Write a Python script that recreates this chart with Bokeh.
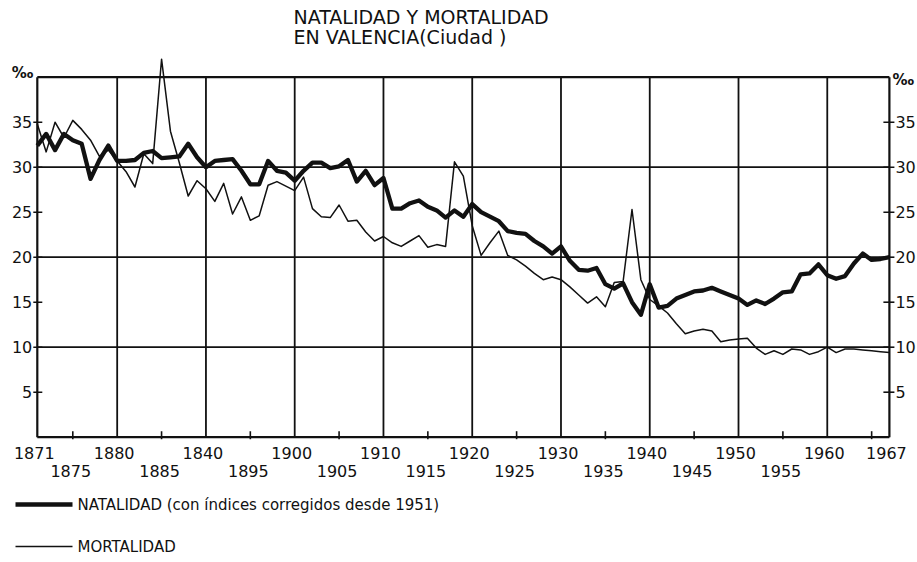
from bokeh.plotting import figure
from bokeh.models import ColumnDataSource, Range1d
from bokeh.core.properties import value
from bokeh.embed import file_html
from bokeh.resources import INLINE

# ---------------- data ----------------
years = list(range(1871, 1968))

natalidad = [
    32.4, 33.7, 31.9, 33.7, 33.0, 32.6, 28.7, 30.8, 32.4, 30.7,   # 1871-1880
    30.7, 30.8, 31.6, 31.8, 31.0, 31.1, 31.2, 32.6, 31.1, 30.0,   # 1881-1890
    30.7, 30.8, 30.9, 29.6, 28.1, 28.1, 30.7, 29.6, 29.4, 28.5,   # 1891-1900
    29.6, 30.5, 30.5, 29.9, 30.1, 30.8, 28.4, 29.6, 28.0, 28.8,   # 1901-1910
    25.4, 25.4, 26.0, 26.3, 25.6, 25.2, 24.4, 25.2, 24.5, 25.9,   # 1911-1920
    25.0, 24.5, 24.0, 22.9, 22.7, 22.6, 21.8, 21.2, 20.4, 21.2,   # 1921-1930
    19.6, 18.6, 18.5, 18.8, 17.0, 16.5, 17.1, 15.0, 13.6, 17.0,   # 1931-1940
    14.4, 14.6, 15.4, 15.8, 16.2, 16.3, 16.6, 16.2, 15.8, 15.4,   # 1941-1950
    14.7, 15.2, 14.8, 15.4, 16.1, 16.2, 18.1, 18.2, 19.2, 18.0,   # 1951-1960
    17.6, 17.9, 19.3, 20.4, 19.7, 19.8, 20.0,                     # 1961-1967
]

mortalidad = [
    34.8, 31.7, 35.0, 33.3, 35.2, 34.2, 33.0, 31.2, 31.9, 30.7,   # 1871-1880
    29.5, 27.8, 31.5, 30.4, 42.0, 34.0, 30.5, 26.8, 28.5, 27.6,   # 1881-1890
    26.2, 28.2, 24.8, 26.7, 24.1, 24.6, 28.0, 28.4, 27.9, 27.4,   # 1891-1900
    28.9, 25.4, 24.5, 24.4, 25.8, 24.0, 24.1, 22.8, 21.8, 22.3,   # 1901-1910
    21.6, 21.2, 21.8, 22.4, 21.1, 21.4, 21.2, 30.6, 29.0, 23.5,   # 1911-1920
    20.2, 21.6, 22.9, 20.2, 19.7, 19.0, 18.2, 17.5, 17.8, 17.5,   # 1921-1930
    16.7, 15.8, 14.9, 15.6, 14.5, 17.2, 17.3, 25.3, 17.5, 15.3,   # 1931-1940
    14.6, 13.8, 12.6, 11.5, 11.8, 12.0, 11.8, 10.6, 10.8, 10.9,   # 1941-1950
    11.0, 9.9, 9.2, 9.6, 9.2, 9.8, 9.7, 9.2, 9.5, 10.0,           # 1951-1960
    9.4, 9.8, 9.8, 9.7, 9.6, 9.5, 9.4,                            # 1961-1967
]

y_ticks = [5, 10, 15, 20, 25, 30, 35]
y_tick_labels = ["5", "10", "15", "20", "25", "30", "35"]
h_lines = [10, 20, 30]
decades = [1880, 1890, 1900, 1910, 1920, 1930, 1940, 1950, 1960]
five_year_ticks = [1875, 1885, 1895, 1905, 1915, 1925, 1935, 1945, 1955, 1965]
upper_years = [1871, 1880, 1890, 1900, 1910, 1920, 1930, 1940, 1950, 1960, 1967]
upper_labels = ["1871", "1880", "1840", "1900", "1910", "1920", "1930",
                "1940", "1950", "1960", "1967"]
lower_years = [1875, 1885, 1895, 1905, 1915, 1925, 1935, 1945, 1955]
lower_labels = ["1875", "1885", "1895", "1905", "1915", "1925", "1935",
                "1945", "1955"]

title_1 = "NATALIDAD Y MORTALIDAD"
title_2 = "EN VALENCIA(Ciudad )"
legend_1 = "NATALIDAD (con índices corregidos desde 1951)"
legend_2 = "MORTALIDAD"
unit = "‰"

X0, X1 = 1871, 1967      # data extent in x
Y0, YTOP = 0, 40         # data extent in y (frame box)

# ---------------- layout (pixels) ----------------
W, H = 917, 562
PX_X0, PX_X1 = 36.8, 888.9    # page x of 1871 and 1967
PX_Y0, PX_YTOP = 436.7, 76.7  # page y of 0 and 40
SX = (PX_X1 - PX_X0) / (X1 - X0)
SY = (PX_Y0 - PX_YTOP) / (YTOP - Y0)


def px_x(page_x):
    return X0 + (page_x - PX_X0) / SX


def px_y(page_y):
    return Y0 + (PX_Y0 - page_y) / SY


FONT = "DejaVu Sans"
INK = "#111111"

p = figure(width=W, height=H,
           x_range=Range1d(px_x(0), px_x(W)), y_range=Range1d(px_y(H), px_y(0)),
           output_backend="svg", toolbar_location=None,
           x_axis_location=None, y_axis_location=None, min_border=0)
p.outline_line_color = None
p.grid.visible = False
p.background_fill_color = "white"
p.border_fill_color = "white"

# ---------------- frame, grid, ticks ----------------
p.segment(x0=decades, y0=Y0, x1=decades, y1=YTOP, line_color=INK, line_width=1.8)
p.segment(x0=X0, y0=h_lines, x1=X1, y1=h_lines, line_color=INK, line_width=1.8)
p.segment(x0=[X0, X1], y0=Y0, x1=[X0, X1], y1=YTOP, line_color=INK, line_width=2.2)
p.segment(x0=X0, y0=[Y0, YTOP], x1=X1, y1=[Y0, YTOP], line_color=INK, line_width=2.2)

# y ticks crossing the side axes
p.segment(x0=px_x(PX_X0 - 4), y0=y_ticks, x1=px_x(PX_X0 + 5), y1=y_ticks,
          line_color=INK, line_width=1.6)
p.segment(x0=px_x(PX_X1 - 6), y0=y_ticks, x1=px_x(PX_X1 + 5), y1=y_ticks,
          line_color=INK, line_width=1.6)
# x ticks every five years
p.segment(x0=five_year_ticks, y0=px_y(PX_Y0 + 2), x1=five_year_ticks,
          y1=px_y(PX_Y0 - 6), line_color=INK, line_width=1.6)

# ---------------- series ----------------
src = ColumnDataSource(dict(year=years, nat=natalidad, mort=mortalidad))
p.line("year", "mort", source=src, line_color=INK, line_width=1.5, line_join="round")
p.line("year", "nat", source=src, line_color=INK, line_width=4.3, line_join="round")

# ---------------- tick labels ----------------
TICK_SIZE = "16px"
p.text(x=X0, y=y_ticks, text=y_tick_labels, x_offset=-5, text_align="right",
       text_baseline="middle", text_font=value(FONT), text_font_size=TICK_SIZE,
       text_color=INK)
p.text(x=X1, y=y_ticks, text=y_tick_labels, x_offset=6, text_align="left",
       text_baseline="middle", text_font=value(FONT), text_font_size=TICK_SIZE,
       text_color=INK)
p.text(x=upper_years, y=px_y(452.5), text=upper_labels, x_offset=-3,
       text_align="center", text_baseline="middle", text_font=value(FONT),
       text_font_size=TICK_SIZE, text_color=INK)
p.text(x=lower_years, y=px_y(470.5), text=lower_labels, x_offset=-2,
       text_align="center", text_baseline="middle", text_font=value(FONT),
       text_font_size=TICK_SIZE, text_color=INK)

# per-mille marks at the top of both axes
p.text(x=[X0], y=[px_y(72.5)], text=[unit], x_offset=-4, text_align="right",
       text_baseline="middle", text_font=value(FONT), text_font_size="15px",
       text_font_style="bold", text_color=INK)
p.text(x=[X1], y=[px_y(79.5)], text=[unit], x_offset=3, text_align="left",
       text_baseline="middle", text_font=value(FONT), text_font_size="15px",
       text_font_style="bold", text_color=INK)

# ---------------- title ----------------
p.text(x=[px_x(293)] * 2, y=[px_y(16), px_y(36)], text=[title_1, title_2],
       text_align="left", text_baseline="middle", text_font=value(FONT),
       text_font_size="19px", text_color=INK)

# ---------------- legend ----------------
p.segment(x0=px_x(15), y0=px_y(504), x1=px_x(72), y1=px_y(504),
          line_color=INK, line_width=4.3)
p.segment(x0=px_x(15), y0=px_y(546), x1=px_x(72), y1=px_y(546),
          line_color=INK, line_width=1.5)
p.text(x=[px_x(77)] * 2, y=[px_y(504), px_y(546)], text=[legend_1, legend_2],
       text_align="left", text_baseline="middle", text_font=value(FONT),
       text_font_size="15px", text_color=INK)

open("out.html", "w").write(file_html(p, INLINE))
